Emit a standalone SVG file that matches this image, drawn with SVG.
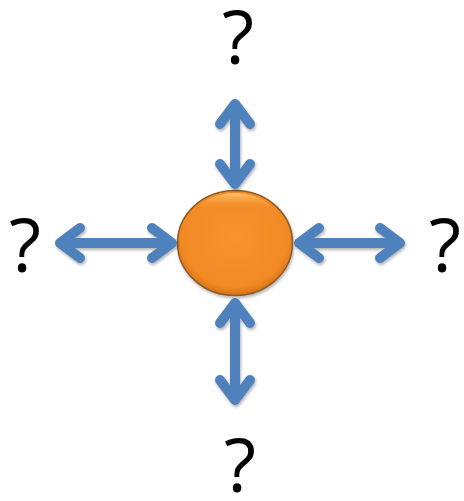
<svg xmlns="http://www.w3.org/2000/svg" width="464" height="501" viewBox="0 0 464 501">
<style>
.q{font-family:"Open Sans","Liberation Sans",sans-serif;font-size:74px;fill:#000;text-anchor:middle}
.arr{fill:none;stroke:#4f81bd;stroke-width:10;stroke-linecap:round;stroke-linejoin:round}
</style>
<defs>
<radialGradient id="og" cx="0.5" cy="0.45" r="0.55">
<stop offset="0" stop-color="#f7922e"/>
<stop offset="0.85" stop-color="#f28a24"/>
<stop offset="1" stop-color="#d6741a"/>
</radialGradient>
<linearGradient id="hl" x1="0" y1="0" x2="0" y2="1">
<stop offset="0" stop-color="#ffd080" stop-opacity="0.8"/>
<stop offset="0.15" stop-color="#ffa040" stop-opacity="0"/>
</linearGradient>
<filter id="sh" x="-20%" y="-20%" width="140%" height="140%">
<feDropShadow dx="1" dy="2" stdDeviation="1.5" flood-color="#000" flood-opacity="0.3"/>
</filter>
</defs>
<g id="center">
<ellipse cx="235" cy="243" rx="57.5" ry="52.5" fill="url(#og)" stroke="#8a5a2a" stroke-width="1.5" filter="url(#sh)"/>
<ellipse cx="235" cy="243" rx="55" ry="50" fill="url(#hl)"/>
</g>
<g id="q-top"><text class="q" x="238" y="64">?</text></g>
<g id="q-left"><text class="q" x="25" y="272">?</text></g>
<g id="q-right"><text class="q" x="445" y="272">?</text></g>
<g id="q-bottom"><text class="q" x="240" y="492">?</text></g>
<g id="connectors" filter="url(#sh)">
<path class="arr" d="M235,104 V184 M220,124 L235,104 L250,124 M220,164 L235,184 L250,164"/>
<path class="arr" d="M235,303 V400 M220,323 L235,303 L250,323 M220,380 L235,400 L250,380"/>
<path class="arr" d="M60,243 H172 M80,228 L60,243 L80,258 M152,228 L172,243 L152,258"/>
<path class="arr" d="M299,243 H400 M319,228 L299,243 L319,258 M380,228 L400,243 L380,258"/>
</g>
</svg>
